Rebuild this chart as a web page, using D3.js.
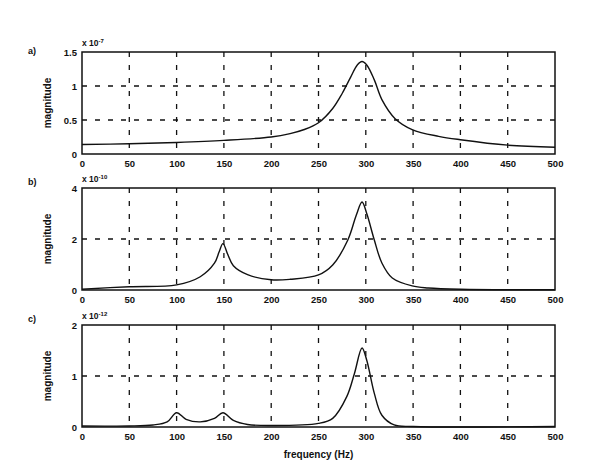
<!DOCTYPE html>
<html>
<head>
<meta charset="utf-8">
<script src="https://cdn.jsdelivr.net/npm/d3@7"></script>
<style>
body{margin:0;background:#fff;}
text{font-family:"Liberation Sans",Arial,sans-serif;font-weight:bold;fill:#111;}
</style>
</head>
<body>
<script>
let xTicks = [0,50,100,150,200,250,300,350,400,450,500];

// panel a (x 10^-7)
let freqA = [0,50,100,150,200,220,235,250,265,275,284,291,296,301,309,317,331,349,377,400,450,500];
let magA  = [0.14,0.15,0.17,0.2,0.25,0.3,0.36,0.46,0.67,0.89,1.13,1.31,1.36,1.31,1.09,0.8,0.52,0.36,0.26,0.21,0.13,0.1];
let yTicksA = [0,0.5,1,1.5];

// panel b (x 10^-10)
let freqB = [0,50,100,125,140,145,149,154,160,175,200,220,250,265,281,290,296,301,309,317,328,349,366,400,500];
let magB  = [0.03,0.13,0.2,0.52,1.05,1.5,1.82,1.4,0.95,0.6,0.4,0.42,0.59,0.98,1.96,2.94,3.45,3.0,1.96,1.06,0.47,0.16,0.08,0.03,0.01];
let yTicksB = [0,2,4];

// panel c (x 10^-12)
let freqC = [0,50,75,90,100,110,125,140,149,160,175,200,250,265,280,288,296,301,309,317,330,350,500];
let magC  = [0.02,0.02,0.04,0.1,0.28,0.15,0.1,0.17,0.28,0.13,0.05,0.03,0.07,0.17,0.6,1.05,1.55,1.31,0.66,0.23,0.04,0.01,0.01];
let yTicksC = [0,1,2];

let panels = [
  {label:"a)", exp:"-7", freq:freqA, mag:magA, ticks:yTicksA, top:52},
  {label:"b)", exp:"-10", freq:freqB, mag:magB, ticks:yTicksB, top:188},
  {label:"c)", exp:"-12", freq:freqC, mag:magC, ticks:yTicksC, top:325}
];

let width = 473, height = 102;
let left = 82;

let svg = d3.select("body").append("svg").attr("width",593).attr("height",473);

let x = d3.scaleLinear().domain([0,500]).range([0,width]);

panels.forEach((p)=>{
  let y = d3.scaleLinear().domain([0,d3.max(p.ticks)]).range([height,0]);
  let g = svg.append("g").attr("transform","translate("+left+","+p.top+")");

  // grid
  g.selectAll("line.vg").data(xTicks.slice(1,-1)).enter().append("line")
    .attr("x1",(d)=>x(d)).attr("x2",(d)=>x(d)).attr("y1",0).attr("y2",height)
    .attr("stroke","#111").attr("stroke-width",1.3).attr("stroke-dasharray","5,8");
  g.selectAll("line.hg").data(p.ticks.slice(1,-1)).enter().append("line")
    .attr("y1",(d)=>y(d)).attr("y2",(d)=>y(d)).attr("x1",0).attr("x2",width)
    .attr("stroke","#111").attr("stroke-width",1.3).attr("stroke-dasharray","5,8");

  // axes
  let xAxis = d3.axisBottom(x).tickValues(xTicks).tickSize(0).tickPadding(6).tickFormat(d3.format("d"));
  let yAxis = d3.axisLeft(y).tickValues(p.ticks).tickSize(0).tickPadding(5).tickFormat((d)=>d+"");
  let gx = g.append("g").attr("transform","translate(0,"+height+")").call(xAxis);
  let gy = g.append("g").call(yAxis);
  [gx,gy].forEach((a)=>{
    a.select(".domain").remove();
    a.selectAll("text").style("font-size","9.5px").style("font-family","'Liberation Sans',Arial,sans-serif").style("font-weight","bold").attr("fill","#111");
  });

  // box
  g.append("rect").attr("x",0).attr("y",0).attr("width",width).attr("height",height)
    .attr("fill","none").attr("stroke","#111").attr("stroke-width",1.5);

  // curve
  let line = d3.line().x((d,i)=>x(p.freq[i])).y((d)=>y(d)).curve(d3.curveCatmullRom.alpha(0.5));
  g.append("path").attr("d",line(p.mag)).attr("fill","none").attr("stroke","#111").attr("stroke-width",1.4);

  // exponent
  let ex = g.append("text").attr("x",0).attr("y",-6).style("font-size","8.5px");
  ex.append("tspan").text("x 10");
  ex.append("tspan").attr("dy",-3).style("font-size","6px").text(p.exp);

  // y label
  g.append("text").attr("transform","translate(-31,"+(height/2)+") rotate(-90)")
    .attr("text-anchor","middle").style("font-size","10px").text("magnitude");

  // panel label
  svg.append("text").attr("x",28).attr("y",p.top+(p.label=="a)"?2:-3)).style("font-size","9px").text(p.label);
});

svg.append("text").attr("x",left+width/2).attr("y",458).attr("text-anchor","middle")
  .style("font-size","10px").text("frequency (Hz)");
</script>
</body>
</html>
